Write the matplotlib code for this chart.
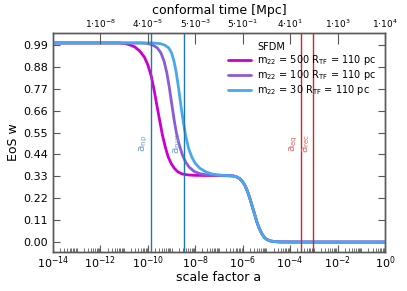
import matplotlib
matplotlib.use("Agg")
import matplotlib.pyplot as plt
from matplotlib.lines import Line2D
from matplotlib.ticker import NullFormatter, FixedLocator, NullLocator
import numpy as np

# ---------------- data ----------------
# early (stiff -> radiation) part of each SFDM curve: log10(a), w
loga_500 = [-14.0, -11.25, -10.95, -10.75, -10.55, -10.35, -10.15, -10.0, -9.85, -9.73,
            -9.61, -9.5, -9.39, -9.27, -9.15, -9.02, -8.88, -8.73, -8.55, -8.3,
            -8.0, -7.0]
w_500 = [1.0, 1.0, 0.997, 0.99, 0.98, 0.96, 0.93, 0.89, 0.83, 0.76,
         0.68, 0.61, 0.54, 0.48, 0.43, 0.395, 0.37, 0.352, 0.342, 0.337,
         0.335, 0.3335]

loga_100 = [-14.0, -10.3, -10.0, -9.8, -9.6, -9.45, -9.32, -9.2, -9.1, -9.0,
            -8.9, -8.8, -8.68, -8.55, -8.4, -8.25, -8.05, -7.8, -7.5, -7.0, -6.7]
w_100 = [1.0, 1.0, 0.997, 0.99, 0.975, 0.95, 0.91, 0.85, 0.78, 0.70,
         0.62, 0.55, 0.49, 0.44, 0.40, 0.375, 0.355, 0.343, 0.337, 0.334, 0.3333]

loga_30 = [-14.0, -9.8, -9.5, -9.3, -9.12, -9.0, -8.9, -8.8, -8.7, -8.6,
           -8.5, -8.4, -8.28, -8.14, -8.0, -7.8, -7.55, -7.3, -7.0, -6.7]
w_30 = [1.0, 1.0, 0.997, 0.99, 0.975, 0.95, 0.91, 0.85, 0.77, 0.68,
        0.60, 0.53, 0.47, 0.425, 0.395, 0.37, 0.352, 0.342, 0.337, 0.334]

# late (radiation -> matter) part, shared by all curves
loga_late = [-6.6, -6.4, -6.25, -6.12, -6.0, -5.9, -5.8, -5.7, -5.6, -5.5,
             -5.4, -5.3, -5.2, -5.1, -5.0, -4.85, -4.65, -4.4, -3.0, 0.0]
w_late = [0.3333, 0.332, 0.327, 0.318, 0.302, 0.283, 0.255, 0.22, 0.18, 0.14,
          0.10, 0.068, 0.043, 0.025, 0.014, 0.006, 0.002, 0.0005, 0.0, 0.0]

series_labels = [r"m$_{22}$ = 500 R$_{\rm TF}$ = 110 pc",
                 r"m$_{22}$ = 100 R$_{\rm TF}$ = 110 pc",
                 r"m$_{22}$ = 30 R$_{\rm TF}$ = 110 pc"]
series_colors = ["#cc00cc", "#8a5cd8", "#48a8ec"]

# vertical markers
vline_a = [1.3e-10, 3.2e-9, 2.9e-4, 9.0e-4]
vline_labels = [r"a$_{\rm np}$", r"a$_{\rm nuc}$", r"a$_{\rm eq}$", r"a$_{\rm rec}$"]
vline_colors = ["#1f77b4", "#1f77b4", "#d62728", "#d62728"]
vline_text_colors = ["#6a9fcf", "#6a9fcf", "#e06a6a", "#e06a6a"]

# bottom axis ticks
xmajor = [1e-14, 1e-12, 1e-10, 1e-8, 1e-6, 1e-4, 1e-2, 1e0]

# top axis (conformal time)
top_tick_a = [1e-12, 1e-10, 1e-8, 1e-6, 1e-4, 1e-2, 1e0]
top_tick_labels = [r"$1{\cdot}10^{-8}$", r"$4{\cdot}10^{-5}$", r"$5{\cdot}10^{-3}$",
                   r"$5{\cdot}10^{-1}$", r"$4{\cdot}10^{1}$", r"$1{\cdot}10^{3}$",
                   r"$1{\cdot}10^{4}$"]

yticks = [0.0, 0.11, 0.22, 0.33, 0.44, 0.55, 0.66, 0.77, 0.88, 0.99]

# ---------------- plot ----------------
W, H = 407, 291
fig = plt.figure(figsize=(W / 100, H / 100), dpi=100)
ax = fig.add_axes([53 / W, 39 / H, 332 / W, 219 / H])

spine_col = "0.35"
early = [(loga_500, w_500), (loga_100, w_100), (loga_30, w_30)]
for (la, ww), lab, col in zip(early, series_labels, series_colors):
    x = np.power(10.0, np.array(la + loga_late))
    y = np.array(ww + w_late)
    ax.plot(x, y, color=col, lw=2.0, label=lab, solid_joinstyle="round",
            solid_capstyle="round", zorder=3)

for a, lab, col, tcol in zip(vline_a, vline_labels, vline_colors, vline_text_colors):
    ax.axvline(a, color=col, lw=1.0, zorder=4)
    ax.text(a / 1.1, 0.495, lab, rotation=90, ha="right", va="center",
            fontsize=7.5, color=tcol, zorder=4)

ax.set_xscale("log")
ax.set_xlim(1e-14, 1e0)
ax.set_ylim(-0.05, 1.05)
minor_locs = [m * 10.0 ** e for e in range(-14, 0) for m in range(1, 10)
              if not (m == 1 and e % 2 == 0)]
ax.xaxis.set_major_locator(FixedLocator(xmajor))
ax.xaxis.set_minor_locator(FixedLocator(minor_locs))
ax.xaxis.set_minor_formatter(NullFormatter())
ax.set_yticks(yticks)
ax.set_yticklabels(["%.2f" % v for v in yticks])

ax.tick_params(axis="both", which="both", direction="in", colors=spine_col,
               labelcolor="black", labelsize=8)
ax.tick_params(axis="x", which="major", length=5, width=0.8, top=False, pad=2)
ax.tick_params(axis="x", which="minor", length=3, width=0.6, top=False)
ax.tick_params(axis="y", which="major", length=5, width=0.8, right=True)
for s in ax.spines.values():
    s.set_color(spine_col)
    s.set_linewidth(1.0)

ax.set_xlabel("scale factor a", fontsize=9, labelpad=0)
ax.set_ylabel("EoS w", fontsize=9, labelpad=2)

# top axis
ax2 = ax.twiny()
ax2.set_xscale("log")
ax2.set_xlim(ax.get_xlim())
ax2.xaxis.set_major_locator(FixedLocator(top_tick_a))
ax2.xaxis.set_minor_locator(NullLocator())
ax2.set_xticklabels(top_tick_labels)
ax2.tick_params(axis="x", which="major", direction="in", length=8, width=0.8,
                colors=spine_col, labelcolor="black", labelsize=6.5, pad=2)
for s in ax2.spines.values():
    s.set_color(spine_col)
    s.set_linewidth(1.0)
ax2.set_xlabel("conformal time [Mpc]", fontsize=9, labelpad=3)

# legend (title as first, handle-less entry)
handles, labels = ax.get_legend_handles_labels()
handles = [Line2D([], [], color="none")] + handles
labels = ["SFDM"] + labels
leg = ax.legend(handles, labels, loc="upper right", bbox_to_anchor=(1.0, 1.0),
                frameon=False, fontsize=7, handlelength=2.3, handletextpad=0.7,
                labelspacing=0.12, borderaxespad=0.5)
leg.set_zorder(5)

fig.savefig("out.png", dpi=100)
